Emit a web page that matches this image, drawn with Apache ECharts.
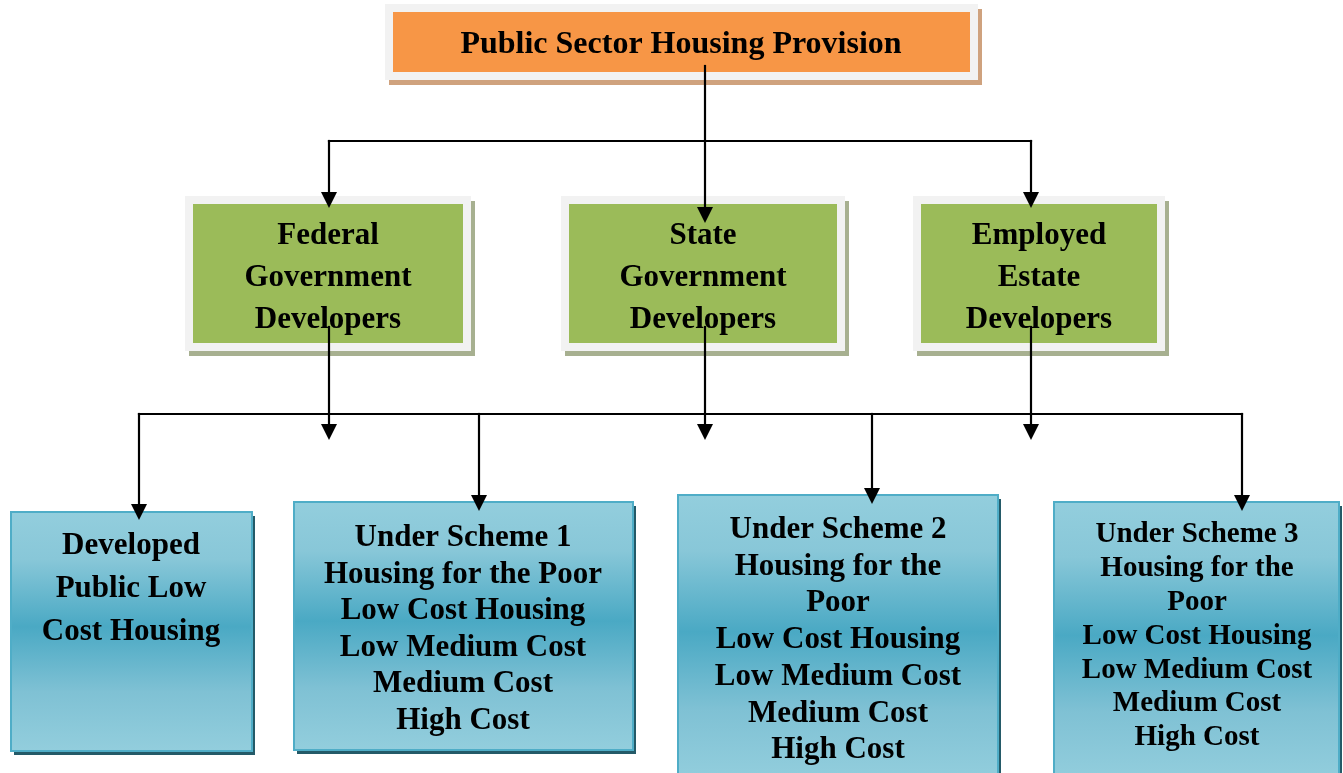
<!DOCTYPE html>
<html>
<head>
<meta charset="utf-8">
<script src="https://cdn.jsdelivr.net/npm/echarts@6/dist/echarts.min.js"></script>
<style>
  html, body { margin: 0; padding: 0; background: #fff; }
  #housingChart { width: 1343px; height: 773px; }
</style>
</head>
<body>
<div id="housingChart"></div>
<script>
  // boxes of the diagram (page units = pixels of the 1343x773 page)
  const nodeText = [
    'Public Sector Housing Provision',
    'Federal\nGovernment\nDevelopers',
    'State\nGovernment\nDevelopers',
    'Employed\nEstate\nDevelopers',
    'Developed\nPublic Low\nCost Housing',
    'Under Scheme 1\nHousing for the Poor\nLow Cost Housing\nLow Medium Cost\nMedium Cost\nHigh Cost',
    'Under Scheme 2\nHousing for the\nPoor\nLow Cost Housing\nLow Medium Cost\nMedium Cost\nHigh Cost',
    'Under Scheme 3\nHousing for the\nPoor\nLow Cost Housing\nLow Medium Cost\nMedium Cost\nHigh Cost'
  ]
  const nodeLevel = [0, 1, 1, 1, 2, 2, 2, 2]
  const nodeLeft = [393, 193, 569, 921, 11, 294, 678, 1054]
  const nodeTop = [12, 204, 204, 204, 512, 502, 495, 502]
  const nodeRight = [970, 463, 837, 1157, 252, 633, 998, 1339]
  const nodeBottom = [72, 343, 343, 343, 751, 750, 780, 780]
  const textX = [681, 328, 703, 1039, 131, 463, 838, 1197]
  const textY = [45, 236, 236, 236, 546, 538, 530, 535]
  const textSize = [32, 31, 31, 31, 31, 31, 31, 29]
  const textLine = [40, 42, 42, 42, 43, 36.6, 36.7, 33.8]

  // connectors: start and end point, 1 = arrow head at the end
  const linkFrom = [[705, 66], [329, 141], [329, 141], [1031, 141], [329, 327], [705, 327], [1031, 327],
    [139, 414], [139, 414], [479, 414], [872, 414], [1242, 414]]
  const linkTo = [[705, 223], [1031, 141], [329, 208], [1031, 208], [329, 440], [705, 440], [1031, 440],
    [1242, 414], [139, 520], [479, 511], [872, 504], [1242, 511]]
  const linkArrow = [1, 0, 1, 1, 1, 1, 1, 0, 1, 1, 1, 1]

  const fillColor = ['#f79646', '#9bbb59']
  const shadowColor = ['#cfa27e', '#a7b090']

  let myChart = echarts.init(document.getElementById('housingChart'))

  function renderBox (params, api) {
    let i = params.dataIndex
    let p0 = api.coord([api.value(0), api.value(1)])
    let p1 = api.coord([api.value(2), api.value(3)])
    let w = p1[0] - p0[0]
    let h = p1[1] - p0[1]
    let lv = nodeLevel[i]
    let children = []
    if (lv < 2) {
      children.push({
        type: 'rect',
        shape: { x: p0[0] - 8 + 4, y: p0[1] - 8 + 5, width: w + 16, height: h + 16 },
        style: { fill: shadowColor[lv] }
      })
      children.push({
        type: 'rect',
        shape: { x: p0[0] - 8, y: p0[1] - 8, width: w + 16, height: h + 16 },
        style: { fill: '#f2f2f2' }
      })
      children.push({
        type: 'rect',
        shape: { x: p0[0], y: p0[1], width: w, height: h },
        style: { fill: fillColor[lv] }
      })
    } else {
      children.push({
        type: 'rect',
        shape: { x: p0[0] + 3, y: p0[1] + 4, width: w, height: h },
        style: { fill: '#245a68' }
      })
      children.push({
        type: 'rect',
        shape: { x: p0[0], y: p0[1], width: w, height: h },
        style: {
          fill: new echarts.graphic.LinearGradient(0, 0, 0, 1, [
            { offset: 0, color: '#93cedd' },
            { offset: 0.2, color: '#88c7d8' },
            { offset: 0.48, color: '#4aa9c4' },
            { offset: 0.75, color: '#7fc1d4' },
            { offset: 1, color: '#93cedd' }
          ]),
          stroke: '#4fadc7',
          lineWidth: 2
        }
      })
    }
    let n = nodeText[i].split('\n').length
    let c = api.coord([textX[i], textY[i] + (n - 1) * textLine[i] / 2])
    children.push({
      type: 'text',
      style: {
        text: nodeText[i],
        x: c[0],
        y: c[1],
        align: 'center',
        verticalAlign: 'middle',
        fontFamily: '"Liberation Serif", "Times New Roman", serif',
        fontWeight: 'bold',
        fontSize: textSize[i],
        lineHeight: textLine[i],
        fill: '#000'
      }
    })
    return { type: 'group', children: children }
  }

  function renderLink (params, api) {
    let a = api.coord([api.value(0), api.value(1)])
    let b = api.coord([api.value(2), api.value(3)])
    let children = []
    let head = 16
    let end = b.slice()
    if (api.value(4)) {
      end[1] = b[1] - head + 2
      children.push({
        type: 'polygon',
        shape: { points: [[b[0] - 8, b[1] - head], [b[0] + 8, b[1] - head], [b[0], b[1]]] },
        style: { fill: '#000' }
      })
    }
    children.push({
      type: 'line',
      shape: { x1: a[0], y1: a[1], x2: end[0], y2: end[1] },
      style: { stroke: '#000', lineWidth: 2.2, lineCap: 'square' }
    })
    return { type: 'group', children: children }
  }

  const option = {
    animation: false,
    grid: { left: 0, right: 0, top: 0, bottom: 0 },
    xAxis: { type: 'value', min: 0, max: 1343, show: false },
    yAxis: { type: 'value', min: 0, max: 773, inverse: true, show: false },
    series: [
      {
        type: 'custom',
        name: 'boxes',
        clip: false,
        z: 2,
        renderItem: renderBox,
        encode: { x: [0, 2], y: [1, 3] },
        data: nodeText.map(function (t, i) {
          return [nodeLeft[i], nodeTop[i], nodeRight[i], nodeBottom[i]]
        })
      },
      {
        type: 'custom',
        name: 'links',
        clip: false,
        z: 3,
        renderItem: renderLink,
        encode: { x: [0, 2], y: [1, 3] },
        data: linkFrom.map(function (p, i) {
          return [p[0], p[1], linkTo[i][0], linkTo[i][1], linkArrow[i]]
        })
      }
    ]
  }
  myChart.setOption(option)
</script>
</body>
</html>
